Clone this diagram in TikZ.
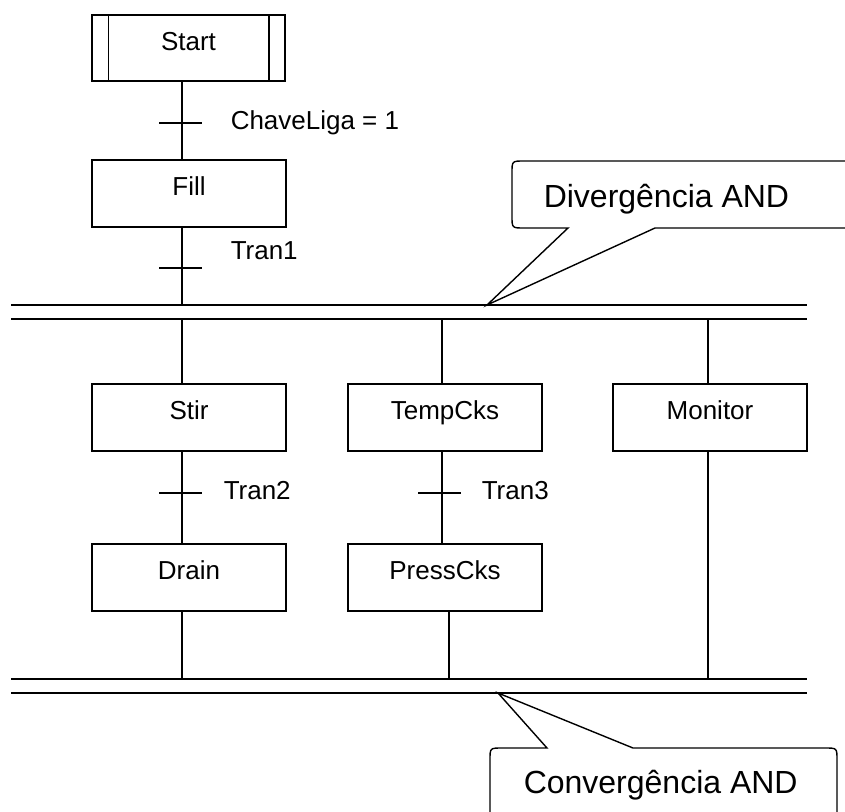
\documentclass[tikz,border=0pt]{standalone}
\usepackage{fontspec}
\setmainfont{Liberation Sans}
\begin{document}
\begin{tikzpicture}[x=1pt,y=-1pt,line width=1.5pt,
  txt/.style={font=\fontsize{26}{30}\selectfont},
  stepbox/.style={draw,txt,inner sep=0pt,minimum width=194pt,
    text height=36pt,text depth=31pt,anchor=north},
  lbl/.style={txt,anchor=base west,inner sep=0pt},
  big/.style={font=\fontsize{32}{38}\selectfont,anchor=base west,inner sep=0pt},
  callout/.style={line width=1.4pt}]
\useasboundingbox (0,0) rectangle (845,811);

% column positions of the sequence lines
\coordinate (c1) at (182,0);
\coordinate (c2) at (442,0);
\coordinate (c2b) at (449,0);
\coordinate (c3) at (708,0);

% steps
\node[stepbox,minimum width=193pt,text depth=30pt] (start) at (188.5,14) {Start};
\draw ([xshift=17pt]start.north west) -- ([xshift=17pt]start.south west);
\draw ([xshift=-17pt]start.north east) -- ([xshift=-17pt]start.south east);
\node[stepbox] (fill) at (189,159) {Fill};
\node[stepbox] (stir) at (189,383) {Stir};
\node[stepbox] (drain) at (189,543) {Drain};
\node[stepbox] (temp) at (445,383) {TempCks};
\node[stepbox] (press) at (445,543) {PressCks};
\node[stepbox] (mon) at (710,383) {Monitor};

% double bars (divergence / convergence)
\coordinate (d1w) at (11,305); \coordinate (d1e) at (807,305);
\coordinate (d2w) at (11,319); \coordinate (d2e) at (807,319);
\coordinate (j1w) at (11,679); \coordinate (j1e) at (807,679);
\coordinate (j2w) at (11,693); \coordinate (j2e) at (807,693);
\draw (d1w) -- (d1e);
\draw (d2w) -- (d2e);
\draw (j1w) -- (j1e);
\draw (j2w) -- (j2e);

% sequence lines
\draw (start.south -| c1) -- (fill.north -| c1);
\draw (fill.south -| c1) -- (d1w -| c1);
\draw (d2w -| c1) -- (stir.north -| c1);
\draw (d2w -| c2) -- (temp.north -| c2);
\draw (d2w -| c3) -- (mon.north -| c3);
\draw (stir.south -| c1) -- (drain.north -| c1);
\draw (temp.south -| c2) -- (press.north -| c2);
\draw (drain.south -| c1) -- (j1w -| c1);
\draw (press.south -| c2b) -- (j1w -| c2b);
\draw (mon.south -| c3) -- (j1w -| c3);

% transitions
\coordinate (t0) at (182,123);
\coordinate (t1) at (182,268);
\coordinate (t2) at (182,493);
\coordinate (t3) at (442,493);
\draw ([xshift=-23pt]t0) -- ([xshift=20pt]t0);
\draw ([xshift=-23pt]t1) -- ([xshift=20pt]t1);
\draw ([xshift=-23pt]t2) -- ([xshift=20pt]t2);
\draw ([xshift=-24pt]t3) -- ([xshift=19pt]t3);
\node[lbl] (l0) at (230,129) {ChaveLiga = 1};
\node[lbl] (l1) at (230,259) {Tran1};
\node[lbl] (l2) at (223,499) {Tran2};
\node[lbl] (l3) at (481,499) {Tran3};

% callouts
\coordinate (divtip) at (487,305);
\coordinate (convtip) at (498,693);
\begin{scope}
\clip (0,0) rectangle (845,811);
\draw[callout] (880,161) -- (524,161) .. controls (512,161) .. (512,173)
  -- (512,216) .. controls (512,228) .. (524,228) -- (568,228)
  -- (divtip) -- (655,228) -- (880,228);
\draw[callout] (490,830) -- (490,760) .. controls (490,748) .. (502,748)
  -- (547,748) -- (convtip) -- (633,748) -- (825,748)
  .. controls (837,748) .. (837,760) -- (837,830);
\end{scope}
\node[big] (div) at (543,207) {Divergência AND};
\node[big] (conv) at (523,793) {Convergência AND};
\end{tikzpicture}
\end{document}
